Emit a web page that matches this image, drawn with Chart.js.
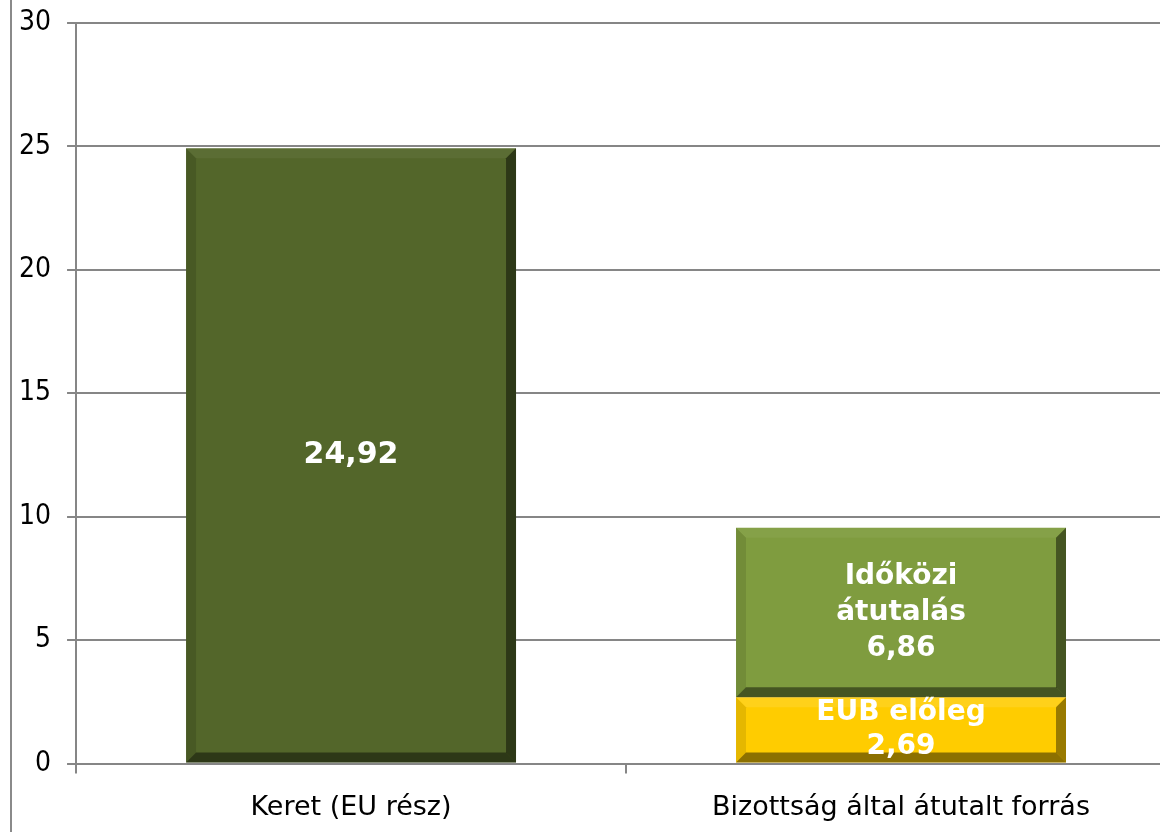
<!DOCTYPE html>
<html>
<head>
<meta charset="utf-8">
<script src="https://cdn.jsdelivr.net/npm/chart.js@4"></script>
<style>
  html, body { margin: 0; padding: 0; background: #fff; overflow: hidden; }
  #wrap { position: relative; width: 1176px; height: 832px; overflow: hidden; }
  #edge { position: absolute; left: 10px; top: 0; width: 2px; height: 832px; background: #8a8a8a; z-index: 1; }
  #chart { position: absolute; left: 0; top: -10px; }
</style>
</head>
<body>
<div id="wrap">
  <div id="edge"></div>
  <canvas id="chart" width="1176" height="862"></canvas>
</div>
<script>
// adatok
var categories = ['Keret (EU rész)', 'Bizottság által átutalt forrás'];
var keretValues = [24.92, null];
var elolegValues = [null, 2.69];
var idokoziValues = [null, 6.86];
var yTicks = [0, 5, 10, 15, 20, 25, 30];

var FONT = '"DejaVu Sans", Verdana, sans-serif';

// címkék a sávokon (sorok + érték)
var barLabels = [
  [],
  ['EUB előleg'],
  ['Időközi', 'átutalás']
];

function fmt(v) { return v.toFixed(2).replace('.', ','); }

// domború (bevel) hatás a sávok szélein
var bevelPlugin = {
  id: 'bevel',
  afterDatasetsDraw: function (chart) {
    var ctx = chart.ctx;
    var shades = [
      { top: 'rgba(255,255,255,0.05)', left: 'rgba(0,0,0,0.12)', right: 'rgba(0,0,0,0.45)', bottom: 'rgba(0,0,0,0.45)' },
      { top: 'rgba(255,255,255,0.10)', left: 'rgba(0,0,0,0.10)', right: 'rgba(0,0,0,0.40)', bottom: 'rgba(0,0,0,0.45)' },
      { top: 'rgba(255,255,255,0.05)', left: 'rgba(0,0,0,0.10)', right: 'rgba(0,0,0,0.45)', bottom: 'rgba(0,0,0,0.45)' }
    ];
    chart.data.datasets.forEach(function (ds, i) {
      chart.getDatasetMeta(i).data.forEach(function (el, j) {
        if (ds.data[j] == null) return;
        var p = el.getProps(['x', 'y', 'base', 'width'], true);
        var l = p.x - p.width / 2, r = p.x + p.width / 2, t = p.y, b = p.base;
        var k = 10, s = shades[i];
        function poly(pts, c) {
          ctx.beginPath(); ctx.moveTo(pts[0][0], pts[0][1]);
          for (var n = 1; n < pts.length; n++) ctx.lineTo(pts[n][0], pts[n][1]);
          ctx.closePath(); ctx.fillStyle = c; ctx.fill();
        }
        ctx.save();
        poly([[l, t], [r, t], [r - k, t + k], [l + k, t + k]], s.top);
        poly([[l, t], [l + k, t + k], [l + k, b - k], [l, b]], s.left);
        poly([[r, t], [r, b], [r - k, b - k], [r - k, t + k]], s.right);
        poly([[l, b], [l + k, b - k], [r - k, b - k], [r, b]], s.bottom);
        ctx.restore();
      });
    });
  }
};

var labelPlugin = {
  id: 'barText',
  afterDatasetsDraw: function (chart) {
    var ctx = chart.ctx;
    ctx.save();
    ctx.fillStyle = '#ffffff';
    ctx.textAlign = 'center';
    ctx.textBaseline = 'middle';
    chart.data.datasets.forEach(function (ds, i) {
      chart.getDatasetMeta(i).data.forEach(function (el, j) {
        var v = ds.data[j];
        if (v == null) return;
        var lines = barLabels[i].concat([fmt(v)]);
        var lh = i === 1 ? 34 : 36;
        var cy = (el.y + el.base) / 2;
        ctx.font = 'bold ' + (i === 0 ? 30 : 28) + 'px ' + FONT;
        lines.forEach(function (s, n) {
          ctx.fillText(s, el.x, cy + (n - (lines.length - 1) / 2) * lh);
        });
      });
    });
    ctx.restore();
  }
};

new Chart(document.getElementById('chart'), {
  type: 'bar',
  data: {
    labels: categories,
    datasets: [
      { label: 'Keret', data: keretValues, backgroundColor: '#53662a' },
      { label: 'EUB előleg', data: elolegValues, backgroundColor: '#ffcc00' },
      { label: 'Időközi átutalás', data: idokoziValues, backgroundColor: '#7f9c3f' }
    ]
  },
  options: {
    responsive: false,
    animation: false,
    layout: { padding: { top: 0, right: 0, bottom: 10, left: 3 } },
    datasets: { bar: { categoryPercentage: 1, barPercentage: 0.6, borderWidth: 0 } },
    plugins: { legend: { display: false }, tooltip: { enabled: false } },
    scales: {
      x: {
        stacked: true,
        offset: true,
        grid: { display: true, drawOnChartArea: false, color: '#868686', lineWidth: 2, tickLength: 10, offset: true },
        border: { display: true, color: '#868686', width: 2 },
        ticks: { color: '#000', padding: 18, font: { family: FONT, size: 27 } }
      },
      y: {
        stacked: true,
        min: 0, max: 30,
        afterBuildTicks: function (axis) { axis.ticks = yTicks.map(function (v) { return { value: v }; }); },
        grid: { color: '#868686', lineWidth: 2, tickLength: 9 },
        border: { display: true, color: '#868686', width: 2 },
        ticks: { color: '#000', padding: 16, font: { family: '"DejaVu Sans Condensed", sans-serif', size: 28 } }
      }
    }
  },
  plugins: [bevelPlugin, labelPlugin]
});
</script>
</body>
</html>
